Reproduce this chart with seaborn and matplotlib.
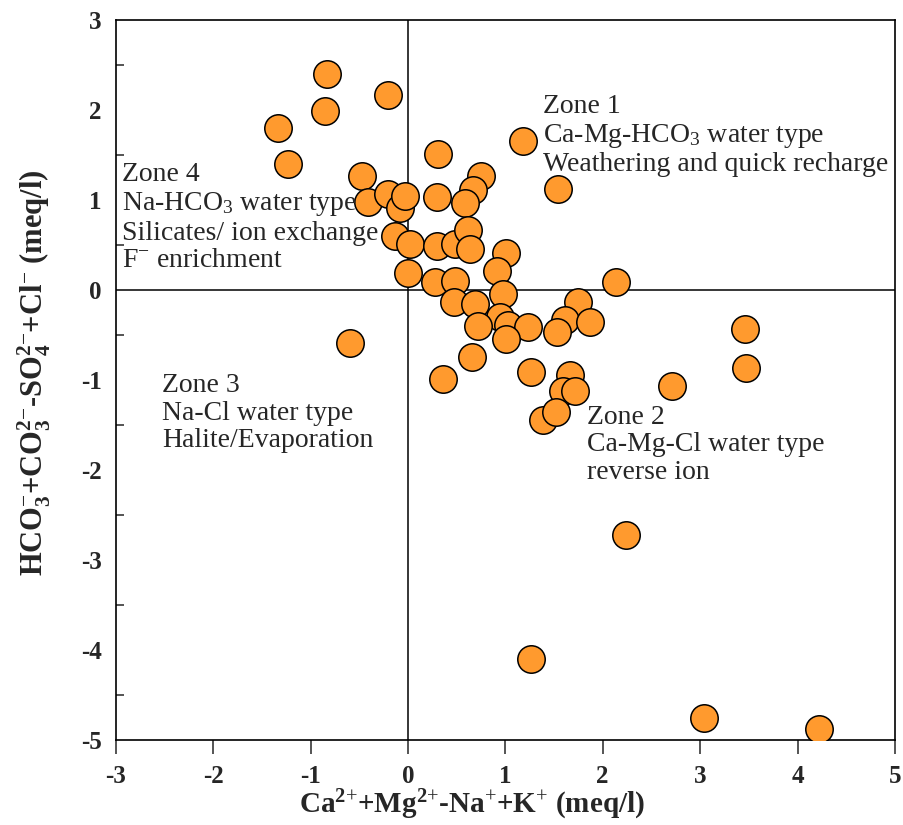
import numpy as np
import pandas as pd
import matplotlib
matplotlib.use("Agg")
import matplotlib.pyplot as plt
from matplotlib.ticker import MultipleLocator
import seaborn as sns

# cation excess (x) vs anion balance (y), meq/l
cation_diff = [-0.835, -0.20, -0.85, -1.33, -1.23, 1.18, 0.31, 1.54, -0.475, 0.75,
               0.67, 0.585, 0.295, -0.41, -0.20, -0.08, -0.03, -0.13, 0.02, 0.295,
               0.48, 0.62, 0.64, 1.01, 0.91, 0.00, 0.28, 0.48, 0.98, 2.14,
               0.47, 0.69, 1.75, 1.61, 1.87, 1.53, 0.945, 1.03, 1.235, 0.72,
               1.01, -0.595, 0.66, 0.36, 1.26, 1.66, 1.595, 1.72, 1.39, 1.52,
               3.46, 3.47, 2.71, 2.24, 1.26, 3.04, 4.22]
anion_diff = [2.40, 2.16, 1.99, 1.80, 1.40, 1.65, 1.51, 1.12, 1.26, 1.27,
              1.11, 0.97, 1.03, 0.98, 1.06, 0.91, 1.04, 0.60, 0.51, 0.49,
              0.51, 0.66, 0.45, 0.41, 0.21, 0.19, 0.09, 0.10, -0.05, 0.09,
              -0.14, -0.16, -0.14, -0.34, -0.36, -0.47, -0.30, -0.39, -0.41, -0.40,
              -0.55, -0.585, -0.75, -0.99, -0.91, -0.94, -1.12, -1.12, -1.44, -1.36,
              -0.43, -0.87, -1.07, -2.72, -4.10, -4.76, -4.88]

zone_text = {
    "z1": "Zone 1\nCa-Mg-HCO$_3$ water type\nWeathering and quick recharge",
    "z2": "Zone 2\nCa-Mg-Cl water type\nreverse ion",
    "z3": "Zone 3\nNa-Cl water type\nHalite/Evaporation",
    "z4": "Zone 4\nNa-HCO$_3$ water type\nSilicates/ ion exchange\nF$^{-}$ enrichment",
}

df = pd.DataFrame({"x": cation_diff, "y": anion_diff})

sns.set_style("ticks")
plt.rcParams["font.family"] = ["Liberation Serif", "DejaVu Serif"]
plt.rcParams["mathtext.fontset"] = "custom"
plt.rcParams["mathtext.rm"] = "Liberation Serif"
plt.rcParams["mathtext.it"] = "Liberation Serif:italic"
plt.rcParams["mathtext.bf"] = "Liberation Serif:bold"
plt.rcParams["axes.unicode_minus"] = False

fig = plt.figure(figsize=(9.04, 8.25), dpi=100)
ax = fig.add_axes([0.128, 0.103, 0.862, 0.873])

ax.axhline(0, color="black", lw=1.1, zorder=1)
ax.axvline(0, color="black", lw=1.1, zorder=1)

sns.scatterplot(data=df, x="x", y="y", ax=ax, s=390, color="#FF9A2E",
                edgecolor="black", linewidth=1.1, zorder=3, legend=False)

ax.set_xlim(-3, 5)
ax.set_ylim(-5, 3)
ax.xaxis.set_major_locator(MultipleLocator(1))
ax.yaxis.set_major_locator(MultipleLocator(1))
ax.yaxis.set_minor_locator(MultipleLocator(0.5))
ax.tick_params(axis="x", which="major", direction="out", length=10, width=1.1, pad=8)
ax.tick_params(axis="y", which="major", direction="out", length=0, pad=10)
ax.tick_params(axis="y", which="minor", direction="in", length=6, width=1.1)
for lab in ax.get_xticklabels() + ax.get_yticklabels():
    lab.set_fontweight("bold")
    lab.set_fontsize(18)
for sp in ax.spines.values():
    sp.set_visible(True)
    sp.set_linewidth(1.2)
    sp.set_color("black")

ax.set_xlabel(r"Ca$^{\mathbf{2}{+}}$+Mg$^{\mathbf{2}{+}}$-Na$^{{+}}$+K$^{{+}}$ (meq/l)",
              fontsize=21, fontweight="bold")
ax.set_ylabel(r"HCO$_{\mathbf{3}}^{{-}}$+CO$_{\mathbf{3}}^{\mathbf{2}{-}}$-SO$_{\mathbf{4}}^{\mathbf{2}{-}}$+Cl$^{{-}}$ (meq/l)",
              fontsize=22, fontweight="bold")
ax.xaxis.set_label_coords(0.457, -0.066)
ax.yaxis.set_label_coords(-0.08, 0.51)

ax.text(1.39, 2.175, zone_text["z1"], fontsize=20, va="top", ha="left", linespacing=1.13)
ax.text(1.84, -1.275, zone_text["z2"], fontsize=20, va="top", ha="left", linespacing=1.13)
ax.text(-2.52, -0.925, zone_text["z3"], fontsize=20, va="top", ha="left", linespacing=1.13)
ax.text(-2.94, 1.415, zone_text["z4"], fontsize=20, va="top", ha="left", linespacing=1.13)

fig.savefig("out.png", dpi=100)
